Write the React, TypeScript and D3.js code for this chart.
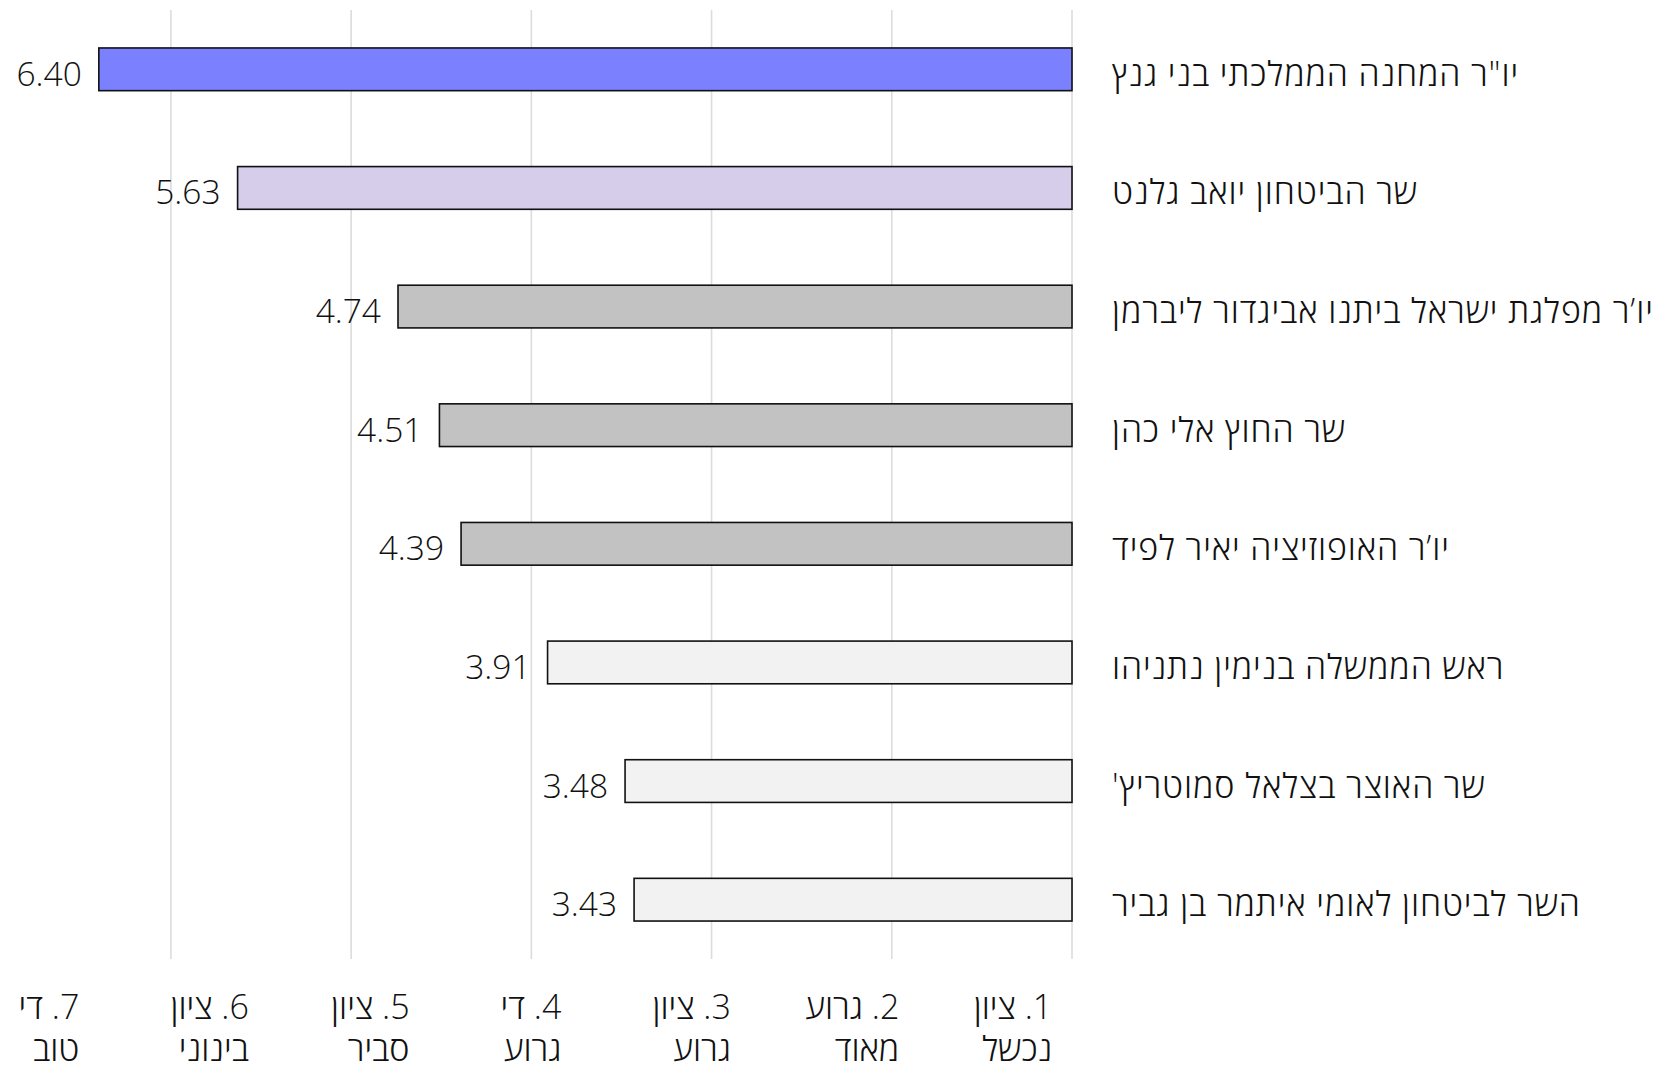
import React, { useEffect, useRef } from 'react';
import * as d3 from 'd3';

const categories = [
  'יו"ר המחנה הממלכתי בני גנץ',
  'שר הביטחון יואב גלנט',
  'יו’ר מפלגת ישראל ביתנו אביגדור ליברמן',
  'שר החוץ אלי כהן',
  'יו’ר האופוזיציה יאיר לפיד',
  'ראש הממשלה בנימין נתניהו',
  "שר האוצר בצלאל סמוטריץ'",
  'השר לביטחון לאומי איתמר בן גביר',
];
const values = [6.4, 5.63, 4.74, 4.51, 4.39, 3.91, 3.48, 3.43];
const barColors = ['#7b80ff', '#d5cdea', '#c2c2c2', '#c2c2c2', '#c2c2c2', '#f2f2f2', '#f2f2f2', '#f2f2f2'];
const gridValues = [1, 2, 3, 4, 5, 6];
const tickLine1 = ['1. ציון', '2. גרוע', '3. ציון', '4. די', '5. ציון', '6. ציון', '7. די'];
const tickLine2 = ['נכשל', 'מאוד', 'גרוע', 'גרוע', 'סביר', 'בינוני', 'טוב'];

const W = 1676;
const H = 1069;
const FONT = "'Open Sans', 'DejaVu Sans', sans-serif";

export default function App() {
  const ref = useRef<SVGSVGElement>(null);
  useEffect(() => {
    document.body.style.margin = '0';
    const svg = d3.select(ref.current);
    svg.selectAll('*').remove();
    svg.append('rect').attr('width', W).attr('height', H).attr('fill', '#fff');

    const x = d3.scaleLinear().domain([1, 7]).range([1072, -9.3]);
    const y = d3
      .scaleBand<string>()
      .domain(categories)
      .range([10, 959])
      .paddingInner(0.64)
      .paddingOuter(0.32);
    const xt = d3.scalePoint<string>().domain(tickLine1).range([1013, 49]);
    const bw = y.bandwidth();

    svg
      .append('g')
      .selectAll('line')
      .data(gridValues)
      .join('line')
      .attr('x1', (d) => x(d))
      .attr('x2', (d) => x(d))
      .attr('y1', 10)
      .attr('y2', 959)
      .attr('stroke', '#dcdcdc')
      .attr('stroke-width', 1.6);

    const rows = categories.map((c, i) => ({ c, v: values[i], col: barColors[i] }));

    svg
      .append('g')
      .selectAll('rect')
      .data(rows)
      .join('rect')
      .attr('x', (d) => x(d.v))
      .attr('width', (d) => x(1) - x(d.v))
      .attr('y', (d) => y(d.c)!)
      .attr('height', bw)
      .attr('fill', (d) => d.col)
      .attr('stroke', '#111')
      .attr('stroke-width', 1.6);

    svg
      .append('g')
      .selectAll('text')
      .data(rows)
      .join('text')
      .attr('x', (d) => x(d.v) - 17)
      .attr('y', (d) => y(d.c)! + bw / 2 + 16.5)
      .attr('text-anchor', 'end')
      .attr('font-family', FONT)
      .attr('font-weight', 300)
      .attr('font-size', 33.5)
      .attr('fill', '#111')
      .text((d) => d.v.toFixed(2));

    svg
      .append('g')
      .selectAll('text')
      .data(rows)
      .join('text')
      .attr('x', 1112)
      .attr('y', (d) => y(d.c)! + bw / 2 + 16.5)
      .attr('direction', 'rtl')
      .attr('text-anchor', 'end')
      .attr('font-family', FONT)
      .attr('font-weight', 300)
      .attr('font-size', 34)
      .attr('letter-spacing', 0.9)
      .attr('fill', '#111')
      .text((d) => d.c);

    const tg = svg.append('g');
    tickLine1.forEach((t1, i) => {
      const cx = xt(t1)!;
      const g = tg.append('g');
      const a = g
        .append('text')
        .attr('y', 1019)
        .attr('direction', 'rtl')
        .attr('text-anchor', 'end')
        .attr('font-family', FONT)
        .attr('font-weight', 300)
        .attr('font-size', 34)
        .attr('fill', '#111')
        .text(t1);
      const b = g
        .append('text')
        .attr('y', 1061)
        .attr('direction', 'rtl')
        .attr('text-anchor', 'end')
        .attr('font-family', FONT)
        .attr('font-weight', 300)
        .attr('font-size', 34)
        .attr('fill', '#111')
        .text(tickLine2[i]);
      const wa = (a.node() as SVGTextElement).getComputedTextLength();
      const wb = (b.node() as SVGTextElement).getComputedTextLength();
      const right = cx + Math.max(wa, wb) / 2;
      a.attr('x', right - wa);
      b.attr('x', right - wb);
    });
  }, []);
  return <svg ref={ref} width={W} height={H} style={{ display: 'block' }} />;
}
